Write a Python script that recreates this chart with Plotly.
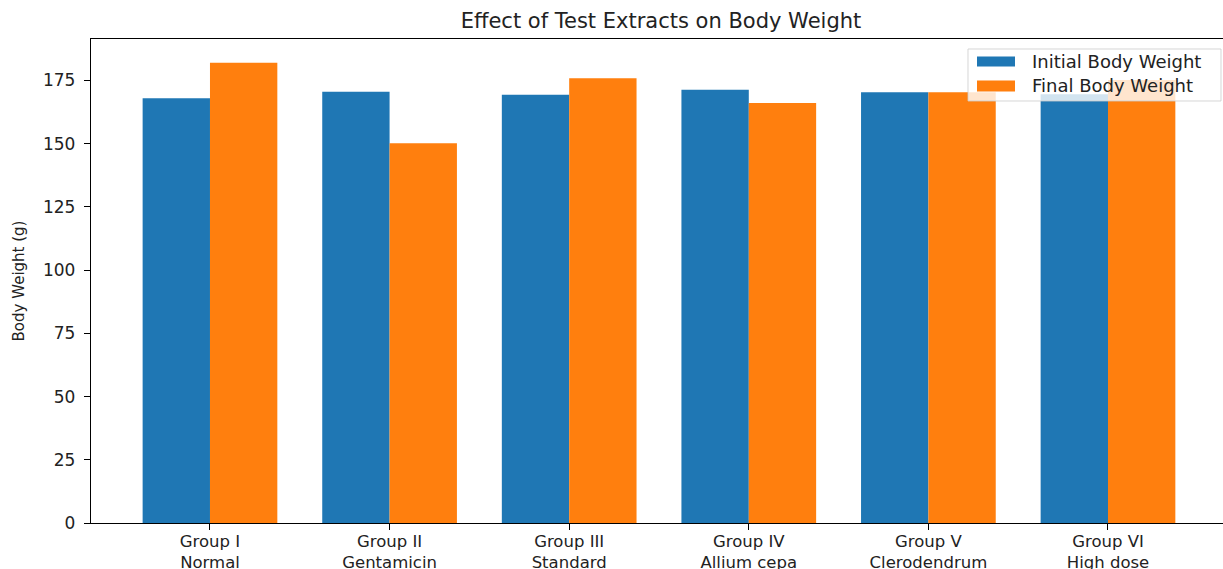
import plotly.graph_objects as go

groups = ["Group I<br>Normal", "Group II<br>Gentamicin", "Group III<br>Standard",
          "Group IV<br>Allium cepa", "Group V<br>Clerodendrum", "Group VI<br>High dose"]
initial_bw = [168, 170.5, 169.4, 171.3, 170.3, 169.6]
final_bw = [182, 150.2, 175.9, 166.1, 170.3, 175.2]
series_names = ["Initial Body Weight", "Final Body Weight"]
colors = ["#1f77b4", "#ff7f0e"]

W, H = 1223, 569
L, R, T, B = 91, 0, 39, 46
pw, ph = W - L - R, H - T - B

def px(x):
    return (x - L) / pw

def py(y):
    return (H - B - y) / ph

FONT = "DejaVu Sans"
xs = list(range(len(groups)))

fig = go.Figure()
fig.add_trace(go.Bar(x=xs, y=initial_bw, name=series_names[0], marker_color=colors[0],
                     marker_line_width=0, showlegend=False))
fig.add_trace(go.Bar(x=xs, y=final_bw, name=series_names[1], marker_color=colors[1],
                     marker_line_width=0, showlegend=False))

fig.update_layout(
    width=W, height=H,
    margin=dict(l=L, r=R, t=T, b=B, pad=0, autoexpand=False),
    paper_bgcolor="white", plot_bgcolor="white",
    barmode="group", bargap=0.25, bargroupgap=0,
    font=dict(family=FONT, size=17, color="#222222"),
    title=dict(text="Effect of Test Extracts on Body Weight", xref="container", x=661 / W,
               xanchor="center", yref="container", y=1 - 21 / H, yanchor="middle",
               font=dict(family=FONT, size=21, color="#222222")),
    xaxis=dict(range=[-0.6625, -0.6625 + pw / 179.6], tickmode="array", tickvals=xs,
               ticktext=groups, showline=True, mirror=True, linecolor="black", linewidth=1.3,
               ticks="outside", ticklen=6, tickcolor="black", tickwidth=1.2,
               ticklabelstandoff=-3, automargin=False,
               showgrid=False, zeroline=False, tickfont=dict(size=16.5, family=FONT)),
    yaxis=dict(range=[0, 191.4], dtick=25, showline=True, mirror=False, linecolor="black",
               linewidth=1.3, ticks="outside", ticklen=6, tickcolor="black", tickwidth=1.2,
               ticklabelstandoff=5, automargin=False,
               showgrid=False, zeroline=False, tickfont=dict(size=17, family=FONT),
               title=dict(text="Body Weight (g)", font=dict(size=15, family=FONT), standoff=14)),
)

# legend drawn in matplotlib style
shapes = [
    dict(type="rect", xref="paper", yref="paper", x0=px(968), x1=px(1221), y0=py(101), y1=py(49),
         fillcolor="rgba(255,255,255,0.8)", line=dict(color="rgba(204,204,204,0.8)", width=1),
         layer="above"),
    dict(type="rect", xref="paper", yref="paper", x0=px(977), x1=px(1015), y0=py(66.5), y1=py(56.5),
         fillcolor=colors[0], line=dict(width=0), layer="above"),
    dict(type="rect", xref="paper", yref="paper", x0=px(977), x1=px(1015), y0=py(91.5), y1=py(80.5),
         fillcolor=colors[1], line=dict(width=0), layer="above"),
]
fig.update_layout(shapes=shapes)
for name, yc in zip(series_names, [61.5, 86]):
    fig.add_annotation(text=name, xref="paper", yref="paper", x=px(1030), y=py(yc),
                       xanchor="left", yanchor="middle", showarrow=False,
                       font=dict(family=FONT, size=18, color="#222222"))

fig.write_html("out.html", config={"displayModeBar": False},
               post_script="document.body.style.margin='0';document.body.style.overflow='hidden';")
